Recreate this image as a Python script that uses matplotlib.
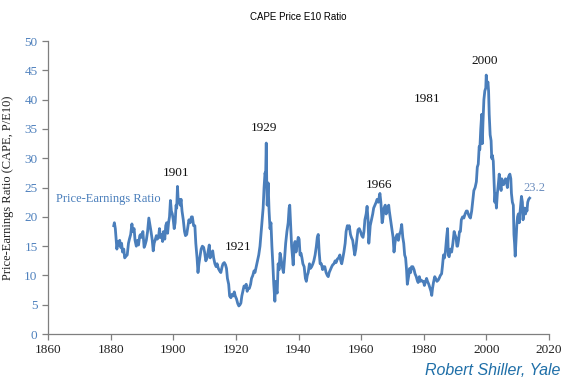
import matplotlib.pyplot as plt
import numpy as np

# CAPE (Shiller P/E10)
years = [
    1881.0, 1881.2, 1881.5, 1881.8, 1882.0, 1882.3, 1882.6, 1882.9, 1883.2, 1883.5,
    1883.8, 1884.2, 1884.5, 1884.9, 1885.3, 1885.7, 1886.0, 1886.4, 1886.8, 1887.1,
    1887.5, 1887.8, 1888.2, 1888.6, 1888.9, 1889.3, 1889.6, 1889.9, 1890.3, 1890.7,
    1891.0, 1891.4, 1891.8, 1892.2, 1892.5, 1892.9, 1893.3, 1893.6, 1893.9, 1894.2,
    1894.6, 1894.9, 1895.3, 1895.6, 1895.9, 1896.3, 1896.6, 1896.9, 1897.3, 1897.6,
    1897.9, 1898.2, 1898.5, 1898.8, 1899.1, 1899.4, 1899.7, 1900.0, 1900.3, 1900.6,
    1900.9, 1901.1, 1901.35, 1901.6, 1901.9, 1902.2, 1902.5, 1902.8, 1903.2, 1903.6,
    1903.9, 1904.3, 1904.7, 1905.0, 1905.4, 1905.8, 1906.1, 1906.5, 1906.9, 1907.2,
    1907.6, 1907.9, 1908.2, 1908.6, 1908.9, 1909.3, 1909.7, 1910.0, 1910.4, 1910.8,
    1911.1, 1911.5, 1911.8, 1912.2, 1912.6, 1912.9, 1913.3, 1913.7, 1914.0, 1914.4,
    1914.8, 1915.2, 1915.6, 1915.9, 1916.3, 1916.7, 1917.0, 1917.3, 1917.7, 1918.0,
    1918.4, 1918.8, 1919.1, 1919.5, 1919.8, 1920.2, 1920.6, 1920.95, 1921.3, 1921.6,
    1921.9, 1922.3, 1922.6, 1922.9, 1923.3, 1923.6, 1923.9, 1924.3, 1924.7, 1925.0,
    1925.4, 1925.8, 1926.1, 1926.5, 1926.9, 1927.3, 1927.7, 1928.0, 1928.4, 1928.7,
    1929.0, 1929.3, 1929.5, 1929.7, 1929.85, 1930.0, 1930.3, 1930.6, 1930.9, 1931.2,
    1931.5, 1931.8, 1932.1, 1932.45, 1932.7, 1932.9, 1933.2, 1933.5, 1933.8, 1934.1,
    1934.4, 1934.8, 1935.2, 1935.5, 1935.9, 1936.3, 1936.7, 1937.0, 1937.2, 1937.5,
    1937.8, 1938.1, 1938.3, 1938.6, 1938.9, 1939.2, 1939.6, 1939.9, 1940.2, 1940.5,
    1940.8, 1941.1, 1941.4, 1941.8, 1942.2, 1942.5, 1942.8, 1943.1, 1943.5, 1943.8,
    1944.2, 1944.6, 1944.9, 1945.3, 1945.7, 1946.0, 1946.3, 1946.6, 1946.9, 1947.3,
    1947.7, 1948.0, 1948.4, 1948.8, 1949.2, 1949.5, 1949.8, 1950.2, 1950.6, 1950.9,
    1951.3, 1951.7, 1952.0, 1952.4, 1952.8, 1953.2, 1953.5, 1953.8, 1954.1, 1954.5,
    1954.9, 1955.2, 1955.6, 1955.9, 1956.2, 1956.6, 1956.9, 1957.3, 1957.7, 1957.95,
    1958.3, 1958.7, 1959.0, 1959.4, 1959.8, 1960.2, 1960.6, 1960.9, 1961.2, 1961.6,
    1961.9, 1962.2, 1962.45, 1962.7, 1962.9, 1963.3, 1963.7, 1964.0, 1964.4, 1964.8,
    1965.1, 1965.5, 1965.8, 1966.0, 1966.3, 1966.7, 1966.9, 1967.3, 1967.7, 1968.0,
    1968.4, 1968.8, 1969.0, 1969.4, 1969.8, 1970.2, 1970.5, 1970.8, 1971.1, 1971.5,
    1971.9, 1972.2, 1972.6, 1972.95, 1973.3, 1973.6, 1973.9, 1974.2, 1974.5, 1974.75,
    1974.9, 1975.2, 1975.5, 1975.8, 1976.1, 1976.5, 1976.9, 1977.2, 1977.6, 1977.9,
    1978.2, 1978.6, 1978.9, 1979.2, 1979.6, 1979.9, 1980.2, 1980.5, 1980.9, 1981.2,
    1981.6, 1981.9, 1982.3, 1982.55, 1982.8, 1983.1, 1983.5, 1983.8, 1984.2, 1984.6,
    1984.9, 1985.3, 1985.7, 1985.95, 1986.3, 1986.6, 1986.9, 1987.3, 1987.6, 1987.85,
    1988.1, 1988.5, 1988.9, 1989.3, 1989.7, 1989.95, 1990.3, 1990.6, 1990.8, 1991.1,
    1991.4, 1991.7, 1992.0, 1992.4, 1992.8, 1993.2, 1993.6, 1993.9, 1994.2, 1994.6,
    1994.9, 1995.3, 1995.7, 1996.0, 1996.4, 1996.8, 1997.1, 1997.4, 1997.7, 1997.9,
    1998.2, 1998.5, 1998.7, 1998.9, 1999.2, 1999.5, 1999.8, 1999.95, 2000.2, 2000.5,
    2000.7, 2000.9, 2001.2, 2001.5, 2001.7, 2001.9, 2002.2, 2002.5, 2002.7, 2002.9,
    2003.2, 2003.5, 2003.8, 2004.1, 2004.4, 2004.7, 2004.9, 2005.2, 2005.5, 2005.8,
    2006.1, 2006.4, 2006.7, 2006.9, 2007.2, 2007.5, 2007.8, 2008.0, 2008.3, 2008.6,
    2008.8, 2009.0, 2009.2, 2009.45, 2009.7, 2009.95, 2010.2, 2010.5, 2010.7, 2010.95,
    2011.2, 2011.5, 2011.7, 2011.9, 2012.2, 2012.5, 2012.8, 2012.95, 2013.2, 2013.5,
    2013.8,
]
cape = [
    18.5, 19.0, 18.0, 16.0, 14.5, 15.8, 15.2, 16.0, 14.8, 15.5,
    14.0, 14.5, 13.0, 13.3, 13.5, 15.5, 16.2, 17.0, 18.8, 17.5,
    18.0, 16.0, 15.0, 16.0, 15.2, 16.8, 17.0, 16.5, 17.5, 14.8,
    15.2, 16.0, 17.5, 19.8, 18.8, 17.5, 16.0, 14.2, 15.5, 16.0,
    16.8, 16.2, 16.5, 18.0, 16.5, 17.0, 15.8, 17.5, 16.2, 18.5,
    19.0, 17.2, 19.0, 20.0, 22.8, 21.0, 20.5, 19.5, 18.0, 19.0,
    22.0, 21.5, 25.2, 22.5, 23.0, 22.0, 23.0, 21.0, 19.5, 17.5,
    16.8, 17.0, 18.5, 19.5, 19.0, 20.0, 20.0, 18.5, 18.5, 15.5,
    13.0, 10.5, 12.0, 13.5, 14.5, 15.0, 14.8, 14.0, 12.5, 13.0,
    14.0, 15.2, 13.0, 13.8, 14.2, 13.0, 12.0, 11.5, 12.0, 11.2,
    10.8, 10.5, 11.5, 12.0, 12.2, 11.8, 11.2, 9.5, 8.5, 6.5,
    6.2, 6.8, 6.5, 7.2, 6.5, 6.0, 5.2, 4.8, 5.0, 5.3,
    6.5, 7.5, 8.2, 8.0, 8.5, 7.3, 7.8, 7.8, 8.5, 9.5,
    10.0, 10.8, 10.5, 11.5, 12.5, 13.5, 15.0, 17.0, 19.5, 21.5,
    25.0, 27.5, 27.0, 32.6, 26.0, 22.0, 25.8, 21.0, 18.0, 19.0,
    15.0, 12.0, 8.5, 5.6, 9.0, 7.5, 7.0, 12.0, 11.0, 13.8,
    13.0, 11.5, 10.5, 12.5, 15.5, 17.5, 19.0, 21.5, 22.0, 18.5,
    15.0, 13.0, 11.8, 15.0, 15.8, 14.0, 15.5, 16.5, 16.2, 13.5,
    13.8, 13.0, 12.0, 11.5, 9.5, 9.0, 10.0, 10.5, 12.0, 11.2,
    11.5, 12.0, 12.5, 13.5, 15.0, 16.5, 17.0, 14.0, 12.0, 12.0,
    11.0, 11.5, 11.5, 10.5, 10.0, 9.8, 10.5, 11.0, 11.5, 11.8,
    12.0, 12.5, 12.2, 12.8, 13.0, 13.5, 12.5, 12.0, 12.8, 14.0,
    15.5, 17.5, 18.5, 18.0, 18.5, 17.0, 16.5, 16.0, 14.5, 13.5,
    14.5, 16.5, 17.8, 18.0, 17.5, 16.8, 16.5, 17.5, 19.5, 20.5,
    21.8, 19.5, 15.5, 17.0, 18.5, 19.5, 20.5, 21.5, 22.0, 22.5,
    23.0, 22.5, 23.5, 24.0, 22.5, 19.0, 19.5, 21.5, 22.0, 20.5,
    21.0, 22.0, 21.0, 19.5, 18.0, 16.5, 14.0, 15.5, 16.5, 17.0,
    16.0, 17.0, 17.5, 18.7, 16.5, 15.5, 13.5, 13.0, 11.0, 8.5,
    9.0, 10.0, 11.2, 10.5, 11.5, 11.5, 11.0, 10.3, 9.8, 9.2,
    8.8, 9.8, 9.0, 9.2, 9.0, 9.0, 8.3, 8.8, 9.5, 9.0,
    8.5, 8.0, 7.3, 6.6, 7.8, 8.8, 9.8, 9.5, 9.0, 9.2,
    9.5, 10.0, 10.3, 11.5, 13.5, 13.0, 14.0, 16.5, 18.0, 13.5,
    13.2, 14.5, 14.0, 15.5, 17.5, 17.0, 16.5, 15.0, 15.0, 16.0,
    17.5, 17.5, 19.5, 20.0, 19.8, 20.5, 21.0, 21.0, 20.5, 20.0,
    19.8, 21.0, 23.0, 24.5, 25.0, 26.0, 28.5, 29.0, 32.0, 31.5,
    35.0, 37.5, 32.5, 36.0, 40.0, 41.5, 42.0, 44.2, 42.5, 43.0,
    41.5, 37.5, 34.0, 33.0, 30.0, 30.5, 29.5, 25.5, 22.5, 24.0,
    21.5, 24.0, 25.5, 27.3, 25.5, 24.5, 26.5, 26.0, 25.5, 26.0,
    26.5, 26.0, 25.0, 26.5, 27.0, 27.3, 26.5, 24.0, 22.5, 22.0,
    17.0, 15.5, 13.3, 16.0, 18.5, 20.0, 20.5, 19.0, 20.5, 22.0,
    23.5, 22.5, 19.5, 20.5, 21.5, 20.5, 21.5, 21.0, 22.5, 23.0,
    23.2,
]

peak_years = ["1901", "1921", "1929", "1966", "1981", "2000"]
peak_pos = [(1901, 27.5), (1920.6, 14.8), (1928.9, 35.2), (1965.8, 25.4), (1981.2, 40.1), (1999.5, 46.6)]

line_color = "#4A7EBB"
serif = "Liberation Serif"
sans = "Liberation Sans"

fig = plt.figure(figsize=(5.66, 3.84), dpi=100)
ax = fig.add_axes([0.0848, 0.130, 0.8852, 0.763])

ax.plot(years, cape, color=line_color, lw=2.0, solid_joinstyle="round")

ax.set_xlim(1860, 2020)
ax.set_ylim(0, 50)
ax.set_xticks(np.arange(1860, 2021, 20))
ax.set_yticks(np.arange(0, 51, 5))

for s in ["top", "right"]:
    ax.spines[s].set_visible(False)
for s in ["left", "bottom"]:
    ax.spines[s].set_color("#7f7f7f")
    ax.spines[s].set_linewidth(0.9)

ax.tick_params(axis="both", direction="out", length=4, width=0.9, color="#7f7f7f")
ax.tick_params(axis="y", labelcolor="#4F81BD")
ax.tick_params(axis="x", labelcolor="#222222")
for lab in ax.get_xticklabels() + ax.get_yticklabels():
    lab.set_fontfamily(serif)
    lab.set_fontsize(9.5)

ax.set_ylabel("Price-Earnings Ratio (CAPE, P/E10)", fontfamily=serif,
              fontsize=9, color="#222222")
ax.yaxis.set_label_coords(-0.068, 0.5)

ax.set_title("CAPE Price E10 Ratio", fontfamily=sans, fontsize=7, pad=15)

for lab, (x, y) in zip(peak_years, peak_pos):
    ax.text(x, y, lab, fontfamily=serif, fontsize=9.5, color="#111111",
            ha="center", va="center")

ax.text(1879.3, 23.0, "Price-Earnings Ratio", fontfamily=serif, fontsize=9,
        color=line_color, ha="center", va="center")
ax.text(2015.3, 24.9, "23.2", fontfamily=serif, fontsize=9,
        color="#6C8EBF", ha="center", va="center")

fig.text(0.99, 0.034, "Robert Shiller, Yale", fontfamily=sans, style="italic",
         fontsize=11.5, color="#1F6FA8", ha="right", va="center")

fig.savefig("out.png", dpi=100)
